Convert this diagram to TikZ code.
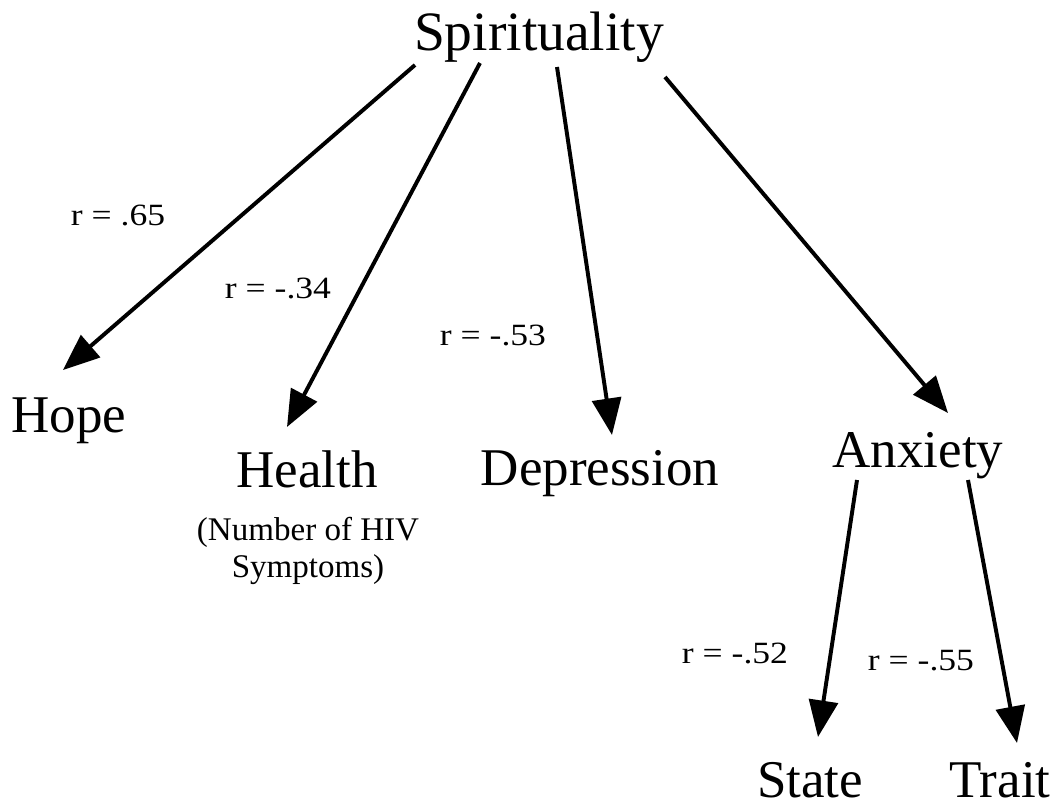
\documentclass[tikz,border=0pt]{standalone}
\usepackage{fontspec}
\setmainfont{Liberation Serif}
\newfontfamily\corrfont[FakeStretch=1.15]{Liberation Serif}
\usepackage{tikz}
\usetikzlibrary{arrows.meta, calc}

\tikzset{
  grand/.style={anchor=base, inner sep=0pt, font=\fontsize{37.7}{45}\selectfont},
  petit/.style={anchor=base, inner sep=0pt, align=center, font=\fontsize{23.5}{26.3}\selectfont},
  coef/.style={anchor=base, inner sep=0pt, font=\corrfont\fontsize{22}{26}\selectfont},
  fleche/.style={line width=2.8pt, -{Triangle[length=26pt, width=20.6pt]}}
}

\begin{document}
\begin{tikzpicture}[x=0.025cm, y=-0.025cm]
    \useasboundingbox (0,0) rectangle (1061,810);

    % Noeud central
    \node[grand, font=\fontsize{39.5}{47}\selectfont] (spir) at (539,50) {Spirituality};

    % Variables
    \node[grand] (hope) at (69,432) {Hope};
    \node[grand] (health) at (307,487) {Health};
    \node[petit] (hivnote) at (308,577) {(Number of HIV\\Symptoms)};
    \node[grand] (depr) at (600,485) {Depression};
    \node[grand] (anx) at (918,467) {Anxiety};
    \node[grand] (state) at (810,797) {State};
    \node[grand] (trait) at (1000,797) {Trait};

    % Flèches depuis Spirituality
    \draw[fleche] ($(spir.base)+(-124,15)$) -- ($(hope.base)+(-6,-62)$);
    \draw[fleche] ($(spir.base)+(-59,13)$) -- ($(health.base)+(-20,-60)$);
    \draw[fleche] ($(spir.base)+(18,17)$) -- ($(depr.base)+(12,-50)$);
    \draw[fleche] ($(spir.base)+(126,27)$) -- ($(anx.base)+(30,-54)$);

    % Flèches depuis Anxiety
    \draw[fleche] ($(anx.base)+(-61,13)$) -- ($(state.base)+(8,-60)$);
    \draw[fleche] ($(anx.base)+(50,13)$) -- ($(trait.base)+(17,-54)$);

    % Coefficients
    \node[coef] (r1) at (118,225) {r = .65};
    \node[coef] (r2) at (278,298) {r = -.34};
    \node[coef] (r3) at (493,345) {r = -.53};
    \node[coef] (r4) at (735,663) {r = -.52};
    \node[coef] (r5) at (921,670) {r = -.55};
\end{tikzpicture}
\end{document}
